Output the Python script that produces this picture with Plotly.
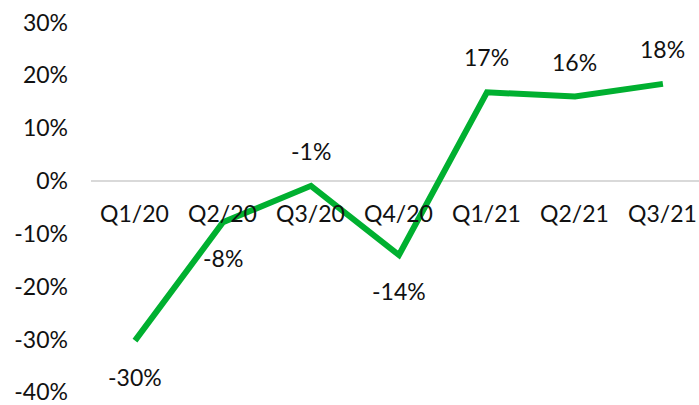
import plotly.graph_objects as go

categories = ["Q1/20", "Q2/20", "Q3/20", "Q4/20", "Q1/21", "Q2/21", "Q3/21"]
values = [-30.2, -7.8, -0.9, -14.0, 16.8, 16.0, 18.4]
y_ticks = [30, 20, 10, 0, -10, -20, -30, -40]
y_tick_labels = ["30%", "20%", "10%", "0%", "-10%", "-20%", "-30%", "-40%"]
label_side = ["below", "below", "above", "below", "above", "above", "above"]

FONT = "Lato"
TXT = "#111111"
FS = 23

fig = go.Figure()
fig.add_trace(go.Scatter(
    x=list(range(len(categories))), y=values, mode="lines",
    line=dict(color="#00B030", width=6), hoverinfo="skip", cliponaxis=False))

ann = []
for i, (c, v, s) in enumerate(zip(categories, values, label_side)):
    ann.append(dict(x=i, y=0, text=c, showarrow=False, xref="x", yref="y",
                    yanchor="middle", yshift=-32,
                    font=dict(family=FONT, size=FS, color=TXT)))
    ann.append(dict(x=i, y=v, text=f"{round(v)}%", showarrow=False, xref="x", yref="y",
                    yanchor="middle", yshift=(35 if s == "above" else -36),
                    font=dict(family=FONT, size=FS, color=TXT)))

fig.update_layout(
    width=699, height=405,
    margin=dict(l=91, r=0, t=12, b=2, autoexpand=False),
    paper_bgcolor="white", plot_bgcolor="white",
    showlegend=False,
    font=dict(family=FONT, size=FS, color=TXT),
    xaxis=dict(range=[-0.5, 6.41], showticklabels=False, showgrid=False,
               zeroline=False, showline=False, ticks="", automargin=False),
    yaxis=dict(range=[-42, 32], tickvals=y_ticks, ticktext=y_tick_labels,
               showgrid=False, zeroline=True, zerolinecolor="#d9d9d9",
               zerolinewidth=2, showline=False, ticks="", ticklabelstandoff=22,
               automargin=False, ticklabeloverflow="allow",
               tickfont=dict(family=FONT, size=FS, color=TXT)),
    annotations=ann,
)

fig.write_html("out.html", config={"displayModeBar": False},
               post_script="document.body.style.margin='0';document.body.style.overflow='hidden';")
